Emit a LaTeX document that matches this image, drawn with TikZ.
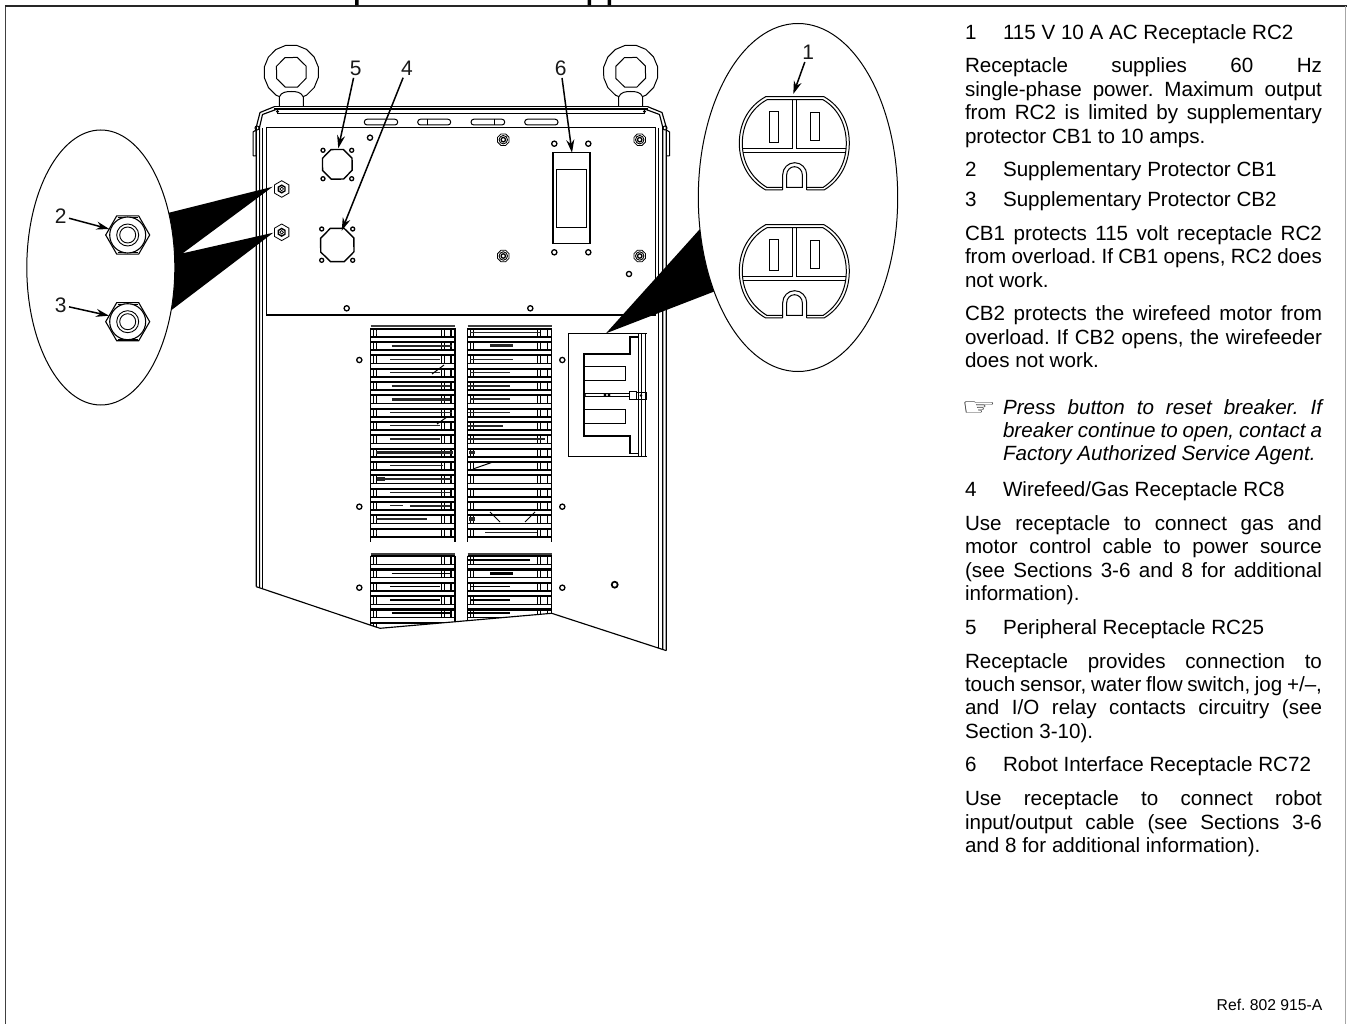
\documentclass[tikz,border=0pt]{standalone}
\usepackage{fontspec}
\usepackage{graphicx}
\setmainfont{Liberation Sans}
\newfontfamily\symfont{DejaVu Sans}
\usetikzlibrary{arrows.meta,calc}
\newcommand\ngon[6][]{\draw[#1] ({#2+#4*cos(#6)},{#3+#4*sin(#6)}) \foreach \k in {1,...,#5}{ -- ({#2+#4*cos(#6+360*\k/#5)},{#3+#4*sin(#6+360*\k/#5)}) } -- cycle;}
\newcommand\ring[3]{\draw[line width=1.3pt,fill=white] (#1,#2) circle[radius=#3pt];}
\newcommand\bolt[2]{\ngon[line width=.8pt]{#1}{#2}{6.2}{8}{22}\draw[line width=.9pt] (#1,#2) circle[radius=4.2pt];\draw[line width=1.3pt] (#1,#2) circle[radius=2.2pt];}
\newcommand\hexnut[2]{\ngon[line width=.8pt]{#1}{#2}{8.3}{6}{30}\ngon[line width=1.4pt]{#1}{#2}{3.8}{6}{30}\draw[line width=.7pt] (#1,#2) circle[radius=1.8pt];}
\newcommand\bignut[2]{\ngon[line width=1.1pt]{#1}{#2}{22}{6}{0}\draw[line width=.8pt] ({#1-10},{#2-17.5}) -- ({#1+10},{#2-17.5}) ({#1-10},{#2+17.5}) -- ({#1+10},{#2+17.5});\draw[line width=1.1pt,fill=white] (#1,#2) circle[radius=18pt];\draw[line width=.9pt] (#1,#2) circle[radius=11pt];\draw[line width=.9pt] (#1,#2) circle[radius=8pt];}
\newcommand\outlet[1]{\begin{scope}[yshift=-#1pt]
\draw[line width=1pt] (782.7,190) -- (765.7,190) .. controls (748,180) and (739.3,162) .. (739.3,143.3) .. controls (739.3,125) and (747,107) .. (765.7,96.7) -- (824,96.7) .. controls (842,107) and (849.3,125) .. (849.3,143.3) .. controls (849.3,162) and (841,180) .. (824,190) -- (806.7,190);
\draw[line width=1pt] (782.7,187.5) -- (767,187.5) .. controls (750,177) and (742.3,161) .. (742.3,143.3) .. controls (742.3,126) and (750,109) .. (767,99.7) -- (823,99.7) .. controls (839,109) and (846.3,126) .. (846.3,143.3) .. controls (846.3,161) and (839,177) .. (823,187.5) -- (806.7,187.5);
\draw[line width=1pt] (743,148.3) -- (792.7,148.3) -- (792.7,99.7);
\draw[line width=1pt] (796,99.7) -- (796,148.3) -- (845.5,148.3);
\draw[line width=1pt] (743,152.3) -- (845.5,152.3);
\draw[line width=1pt] (769.3,111.3) rectangle (778.3,142.3);
\draw[line width=1pt] (810.7,113) rectangle (819.3,140.7);
\draw[line width=1pt] (782.7,190) -- (782.7,174.7) arc[start angle=180,end angle=0,radius=12pt] -- (806.7,190);
\draw[line width=1pt] (786.7,187.5) -- (786.7,174.7) arc[start angle=180,end angle=0,x radius=7.8pt,y radius=8pt] -- (802.3,187.5) -- cycle;
\end{scope}}
\newcommand\louverblock[4]{% x, width, first y, rows
\foreach \r in {1,...,#4}{
 \pgfmathsetmacro\yy{#3+13.33*(\r-1)}
 \draw[line width=2.2pt] (#1,{\yy-4.6}) -- ({#1+#2},{\yy-4.6});
 \draw[line width=1.5pt] (#1,{\yy+3.6}) -- ({#1+#2},{\yy+3.6});
 \draw[line width=.9pt] ({#1+3},{\yy-4}) -- ({#1+3},{\yy+3.6});
 \draw[line width=1.2pt] ({#1+6},{\yy-4}) -- ({#1+6},{\yy+3.6});
 \draw[line width=.9pt] ({#1+#2-14},{\yy-4}) -- ({#1+#2-14},{\yy+3.6});
 \draw[line width=.9pt] ({#1+#2-11},{\yy-4}) -- ({#1+#2-11},{\yy+3.6});
 \draw[line width=1.1pt] ({#1+#2-4},{\yy-4}) -- ({#1+#2-4},{\yy+3.6});
}
\draw[line width=1.2pt] (#1,{#3-5}) -- (#1,{#3+13.33*#4-4.6});
\draw[line width=1.2pt] ({#1+#2},{#3-5}) -- ({#1+#2},{#3+13.33*#4-4.6});
\draw[line width=1.6pt,black!75] (#1,{#3-7}) -- ({#1+#2},{#3-7});
}
\newcommand\jl[4][357]{\node[txt] (#2) at (#3) {\hbox to #1pt{#4}};}
\newcommand\tl[3]{\node[txt] (#1) at (#2) {#3};}
\tikzset{
 txt/.style={anchor=base west,inner sep=0pt,outer sep=0pt,font=\fontsize{20.6}{23}\selectfont,text=black},
 num/.style={inner sep=0pt,outer sep=2.5pt,font=\fontsize{21}{23}\selectfont,text=black!90},
 leader/.style={line width=1.5pt,-{Stealth[length=13pt,width=8pt]}},
 thin line/.style={line width=1pt},
 sheet/.style={line width=1.15pt,line join=round},
 lens/.style={draw=black,line width=1pt,fill=white}
}
\begin{document}
\frenchspacing
\begin{tikzpicture}[x=1pt,y=-1pt]
\useasboundingbox (0,0) rectangle (1347,1024);
% page frame
\draw[line width=1.5pt,black!75] (5.5,1024) -- (5.5,6);
\draw[line width=1.5pt,black!85] (4.8,6) -- (1347,6);
\draw[line width=1pt,black!35] (1345.8,6) -- (1345.8,1024);
\fill[black] (355,0) rectangle (358.5,5.5) (587.5,0) rectangle (591,5.5) (607.5,0) rectangle (611,5.5);
% eye bolts
\foreach \c in {291.3,630.7}{
 \ngon[thin line]{\c}{72.3}{27.5}{16}{11}
 \ngon[thin line]{\c}{72.3}{16}{8}{22}
 \draw[thin line,fill=white] ({\c-12},107) -- ({\c-12},97) .. controls ({\c-10},92) and ({\c-5},91.5) .. ({\c},91.5) .. controls ({\c+5},91.5) and ({\c+10},92) .. ({\c+12},97) -- ({\c+12},107);
}
% sheet
\draw[sheet] (274.3,106.7) -- (647.7,106.7);
\draw[line width=1.5pt] (274.3,109.2) -- (647.7,109.2);
\draw[sheet] (277,113.3) -- (645,113.3);
\draw[sheet] (274.3,106.7) -- (260,112.5) -- (256.3,127) -- (256.3,586.7);
\draw[sheet] (276,109.5) -- (262.5,114.5) -- (259.6,127) -- (259.6,587.8);
\draw[sheet] (262.7,128) -- (262.7,588.8);
\draw[sheet] (647.7,106.7) -- (662,112.5) -- (666.2,127) -- (666.2,650.6);
\draw[sheet] (646,109.5) -- (659.5,114.5) -- (662.7,127) -- (662.7,649.4);
\draw[sheet] (658.6,128) -- (658.6,648);
\fill (277.5,111.5) circle[radius=1.6pt] (644.5,111.5) circle[radius=1.6pt];
\draw[thin line] (253,156) -- (253,132) -- (256,130) (256,130) -- (256,156) -- (253,156);
\draw[thin line] (669.5,156) -- (669.5,132) -- (666.5,130) (666.5,156) -- (669.5,156);
\draw[thin line] (257,128) circle[radius=2pt] (665,128) circle[radius=2pt];
% slots
\foreach \a/\b in {364.3/397.7,417.7/450.7,471/504.7,524.7/558}{
 \draw[thin line,rounded corners=2.8pt] (\a,119.2) rectangle (\b,125);
}
\draw[thin line] (427.7,119.2) -- (427.7,125) (494.3,119.2) -- (494.3,125);
% panel
\draw[line width=1.2pt] (266.3,127.7) rectangle (655.7,315);
% connectors on panel
\hexnut{281.7}{189}
\hexnut{281.7}{232.3}
\ngon[line width=1.4pt]{337.3}{164.3}{16}{8}{22}
\foreach \p/\q in {323/150.3,351.7/150.3,323/178.7,351.7/178.7,321.7/229,352.7/229,321.7/260.3,352.7/260.3}{\ring{\p}{\q}{2}}
\ngon[line width=1.4pt]{337.3}{245}{18}{8}{22}
\foreach \p/\q in {503.3/139.7,639.7/139.7,503.3/256,639.7/256}{\bolt{\p}{\q}}
\foreach \p/\q in {370/137.7,554.3/143.7,588.3/143.7,554.3/252.3,588.3/252.3,629/274,346.7/308.3,530.3/308.3}{\ring{\p}{\q}{2.6}}
\draw[line width=1.2pt] (553,152.7) rectangle (590,243.3);
\draw[line width=1.2pt] (556.7,169.3) rectangle (586.3,227.3);
% louvers
\louverblock{370.7}{84.3}{333.3}{16}
\louverblock{467.7}{84}{333.3}{16}
\begin{scope}
\clip (365,545) -- (556,545) -- (552,613.3) -- (380,628.3) -- (370,625) -- cycle;
\louverblock{370.7}{84.3}{560.7}{6}
\louverblock{467.7}{84}{560.7}{6}
\foreach \r/\a/\b/\t in {0/385/570/2.6,1/450/520/2.6,2/390/510/1.1,3/390/510/1.3,4/385/510/1.8,0/108/112/3,1/155/330/1.3,2/150/300/1.1,3/150/300/1.1,4/155/330/2}{
 \draw[line width=\t pt] ({340+\a/3},{558+13.33*\r+2}) -- ({340+\b/3},{558+13.33*\r+2});
}
\end{scope}
\foreach \r/\a/\b/\t in {0/108/112/3,1/155/335/2.4,2/150/300/1.1,3/150/300/1.1,4/155/330/1.8,5/155/330/3.2,6/150/335/1.1,7/150/300/1.1,8/150/300/1.8,9/108/340/2.8,10/150/310/1.1,11/110/135/3.4,11/135/335/2.4,12/150/330/1.3,13/150/190/1.1,13/210/330/1.5,14/108/260/1.4,15/108/112/3,
0/390/600/1.8,1/450/520/2.8,2/390/520/1.1,3/390/510/1.3,4/385/510/2.4,5/390/510/1.8,6/385/510/1.3,7/385/490/2.4,8/385/615/2.4,9/388/405/3.4,14/388/405/3.4,15/435/590/1.1}{
 \draw[line width=\t pt,black!85] ({340+\a/3},{330.5+13.33*\r+2}) -- ({340+\b/3},{330.5+13.33*\r+2});
}
\draw[line width=1pt] (432,374) -- (444,365) (437,424) -- (447,417) (473,469) -- (493,462) (490,512) -- (500,522) (525,522) -- (535,512);
\foreach \p/\q in {359.3/360,359.3/506.7,359.3/587.7,562.3/360,562.3/506.7,562.3/587.7}{\ring{\p}{\q}{2.6}}
\draw[line width=1.7pt,fill=white] (614.7,584.7) circle[radius=3pt];
% bottom edge
\draw[sheet] (256.3,586.7) -- (370,625) -- (380,628.3) -- (551.7,613.3) -- (666.2,650.6);
% breaker / receptacle box
\fill[white] (568.7,333.3) rectangle (646.7,456.7);
\draw[line width=1.1pt] (646.7,333.3) -- (568.7,333.3) -- (568.7,456.7) -- (646.7,456.7);
\draw[line width=1pt] (638.3,333.3) -- (638.3,456.7) (641.7,333.3) -- (641.7,456.7) (645,333.3) -- (645,456.7);
\draw[line width=1.6pt] (639,337.3) -- (630,337.3) -- (630,354) -- (583.7,354) -- (583.7,436) -- (630,436) -- (630,453.3) -- (639,453.3);
\draw[line width=1.2pt] (584.3,366.7) -- (625.3,366.7) -- (625.3,380.7) -- (584.3,380.7);
\draw[line width=1.2pt] (584.3,409.3) -- (625.3,409.3) -- (625.3,423.3) -- (584.3,423.3);
\draw[line width=1pt] (584,393.6) -- (630,393.6) (584,396.4) -- (630,396.4);
\fill (605,395) circle[radius=1.6pt] (609,395) circle[radius=1.6pt] (584.5,395) circle[radius=1.6pt];
\draw[line width=1.2pt] (629.3,391.7) rectangle (636.7,399.3);
\draw[line width=1pt] (636.7,392) rectangle (646.7,399);
\fill (641,395.5) circle[radius=1.4pt];
% enlargement wedges
\fill[black] (160,215) -- (272.7,186.7) -- (182.7,253.3) -- (273.3,232.7) -- (165,315) -- cycle;
\fill[black] (606,333.3) -- (727,199) -- (757,275) -- cycle;
% left lens
\draw[lens] (100.8,267.5) ellipse[x radius=74pt,y radius=137.5pt];
\bignut{127.7}{235}
\bignut{127.7}{321.7}
% right lens
\draw[lens] (798,197.5) ellipse[x radius=99.7pt,y radius=174pt];
\outlet{0}
\outlet{128}
% item labels and leaders
\node[num] (n5) at (355.7,68) {5};
\node[num] (n4) at (407,68) {4};
\node[num] (n6) at (560.7,68) {6};
\node[num] (n2) at (60.7,216) {2};
\node[num] (n3) at (60.7,305) {3};
\node[num] (n1) at (808.3,52.3) {1};
\coordinate (t5) at (338.3,148.3);
\coordinate (t4) at (341.7,230.7);
\coordinate (t6) at (572,152.7);
\coordinate (t2) at (109.3,229);
\coordinate (t3) at (109,315.7);
\coordinate (t1) at (793.3,94);
\draw[leader] (n5) -- (t5);
\draw[leader] (n4) -- (t4);
\draw[leader] (n6) -- (t6);
\draw[leader] (n2) -- (t2);
\draw[leader] (n3) -- (t3);
\draw[leader] (n1) -- (t1);
% text column
\tl{a1}{965,39.5}{1}
\tl{a1b}{1003,39.5}{115 V 10 A AC Receptacle RC2}
\jl{a2}{965,73}{Receptacle supplies 60 Hz}
\jl{a3}{965,96.4}{single-phase power. Maximum output}
\jl{a4}{965,119.8}{from RC2 is limited by supplementary}
\tl{a5}{965,143.2}{protector CB1 to 10 amps.}
\tl{b1}{965,176.7}{2}
\tl{b1b}{1003,176.7}{Supplementary Protector CB1}
\tl{c1}{965,206.7}{3}
\tl{c1b}{1003,206.7}{Supplementary Protector CB2}
\jl{d1}{965,240.4}{CB1 protects 115 volt receptacle RC2}
\jl{d2}{965,263.8}{from overload. If CB1 opens, RC2 does}
\tl{d3}{965,287.2}{not work.}
\jl{e1}{965,321}{CB2 protects the wirefeed motor from}
\jl{e2}{965,344.4}{overload. If CB2 opens, the wirefeeder}
\tl{e3}{965,367.8}{does not work.}
\node[txt,text=black!85] (hand) at (961,415) {\symfont\fontsize{24}{24}\selectfont\scalebox{1.65}[1]{☞}};
\jl[319]{f1}{1003,414}{\itshape Press button to reset breaker. If}
\jl[319]{f2}{1003,437.4}{\itshape breaker continue to open, contact a}
\tl{f3}{1003,460.8}{\itshape Factory Authorized Service Agent.}
\tl{g1}{965,496.7}{4}
\tl{g1b}{1003,496.7}{Wirefeed/Gas Receptacle RC8}
\jl{g2}{965,530.4}{Use receptacle to connect gas and}
\jl{g3}{965,553.8}{motor control cable to power source}
\jl{g4}{965,577.2}{(see Sections 3-6 and 8 for additional}
\tl{g5}{965,600.6}{information).}
\tl{h1}{965,634.3}{5}
\tl{h1b}{1003,634.3}{Peripheral Receptacle RC25}
\jl{h2}{965,668}{Receptacle provides connection to}
\jl{h3}{965,691.4}{touch sensor, water flow switch, jog +/–,}
\jl{h4}{965,714.8}{and I/O relay contacts circuitry (see}
\tl{h5}{965,738.2}{Section 3-10).}
\tl{i1}{965,771.9}{6}
\tl{i1b}{1003,771.9}{Robot Interface Receptacle RC72}
\jl{i2}{965,805.6}{Use receptacle to connect robot}
\jl{i3}{965,829}{input/output cable (see Sections 3-6}
\tl{i4}{965,852.4}{and 8 for additional information).}
\node[txt,font=\fontsize{15.7}{16}\selectfont] (ref) at (1216.7,1010) {Ref. 802 915-A};
\end{tikzpicture}
\end{document}
